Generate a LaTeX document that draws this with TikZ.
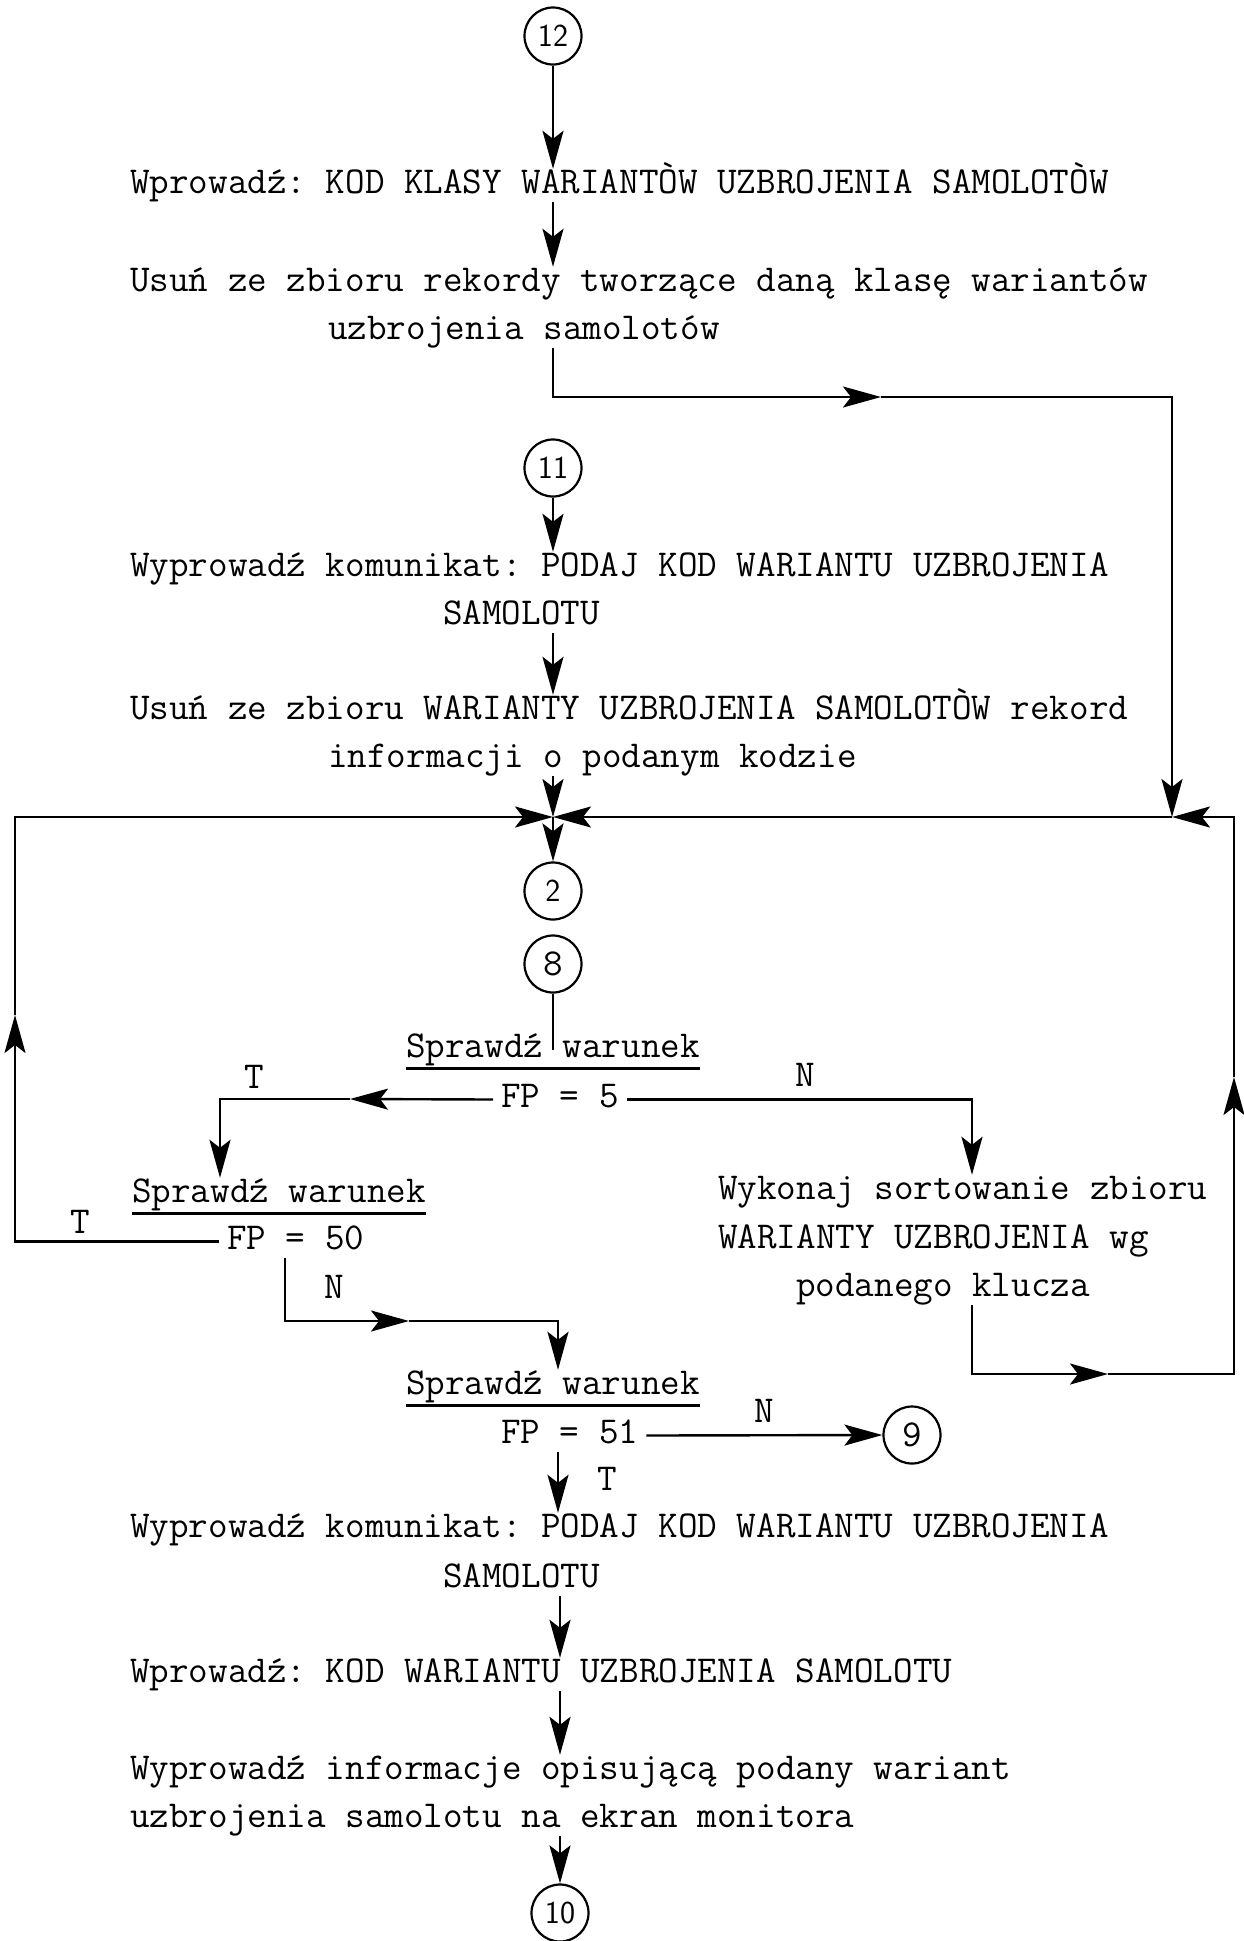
\documentclass[tikz,border=0pt]{standalone}
\usepackage{fontspec}
\usetikzlibrary{arrows.meta,calc}
\begin{document}
\begin{tikzpicture}[x=1pt,y=-1pt,
  every node/.style={inner sep=0pt},
  txt/.style={anchor=base west, font=\ttfamily\fontsize{38}{44}\selectfont\frenchspacing, text height=24pt, text depth=9pt},
  lbl/.style={font=\ttfamily\fontsize{38}{44}\selectfont},
  circ/.style={draw, circle, line width=2.2pt, minimum size=57pt, font=\sffamily\fontsize{32}{32}\selectfont},
  tcirc/.style={circ, font=\ttfamily\fontsize{38}{38}\selectfont},
  ln/.style={line width=2.4pt},
  arr/.style={ln, -{Stealth[length=38pt,width=21pt,inset=8pt]}},
  ul/.style={line width=3pt}]
\useasboundingbox (0,0) rectangle (1243,1941);
% nodes
\node[circ] (c12) at (553,36) {12};
\node[txt] (t1) at (130,193) {Wprowadź: KOD KLASY WARIANTÒW UZBROJENIA SAMOLOTÒW};
\node[txt] (t2a) at (130,291) {Usuń ze zbioru rekordy tworzące daną klasę wariantów};
\node[txt] (t2b) at (328,339) {uzbrojenia samolotów};
\node[circ] (c11) at (553,468) {11};
\node[txt] (t3a) at (130,576) {Wyprowadź komunikat: PODAJ KOD WARIANTU UZBROJENIA};
\node[txt] (t3b) at (443,624) {SAMOLOTU};
\node[txt] (t4a) at (130,719) {Usuń ze zbioru WARIANTY UZBROJENIA SAMOLOTÒW rekord};
\node[txt] (t4b) at (328,767) {informacji o podanym kodzie};
\coordinate (j1) at (553,817);
\coordinate (j2) at (1172,817);
\node[circ] (c2) at (553,891) {2};
\node[tcirc] (c8) at (553,964) {8};
\node[txt] (s1) at (406,1057) {Sprawdź warunek};
\node[txt] (fp5) at (501,1107) {FP = 5};
\node[txt] (s2) at (132,1202) {Sprawdź warunek};
\node[txt] (fp50) at (227,1249) {FP = 50};
\node[txt] (r1) at (718,1199) {Wykonaj sortowanie zbioru};
\node[txt] (r2) at (718,1248) {WARIANTY UZBROJENIA wg};
\node[txt] (r3) at (796,1296) {podanego klucza};
\node[txt] (s3) at (406,1394) {Sprawdź warunek};
\node[txt] (fp51) at (501,1443) {FP = 51};
\node[tcirc] (c9) at (912,1435) {9};
\node[txt] (t5a) at (130,1537) {Wyprowadź komunikat: PODAJ KOD WARIANTU UZBROJENIA};
\node[txt] (t5b) at (443,1587) {SAMOLOTU};
\node[txt] (t6) at (130,1682) {Wprowadź: KOD WARIANTU UZBROJENIA SAMOLOTU};
\node[txt] (t7a) at (130,1779) {Wyprowadź informacje opisującą podany wariant};
\node[txt] (t7b) at (130,1827) {uzbrojenia samolotu na ekran monitora};
\node[circ] (c10) at (560,1913) {10};
% labels
\node[lbl] (lT1) at (254,1077) {T};
\node[lbl] (lN1) at (805,1075) {N};
\node[lbl] (lT2) at (80,1222) {T};
\node[lbl] (lN2) at (334,1287) {N};
\node[lbl] (lN3) at (764,1411) {N};
\node[lbl] (lT3) at (607,1479) {T};
% helper coordinates
\coordinate (m1) at (881,397);
\coordinate (m2) at (15,1015);
\coordinate (m3) at (1108,1374);
\coordinate (m4) at (1234,1077);
\coordinate (m5) at (350,1099);
\coordinate (m6) at (409,1321);
\coordinate (bx) at (972,1099);
\coordinate (tx) at (220,1099);
\coordinate (nx) at (285,1260);
\coordinate (ax2) at (558,1321);
% underlines
\draw[ul] ($(s1.base west)+(0,11)$) -- ($(s1.base east)+(0,11)$);
\draw[ul] ($(s2.base west)+(0,11)$) -- ($(s2.base east)+(0,11)$);
\draw[ul] ($(s3.base west)+(0,11)$) -- ($(s3.base east)+(0,11)$);
% connectors
\draw[arr] (c12.south) -- (t1.north -| c12);
\draw[arr] (t1.south -| c12) -- (t2a.north -| c12);
\draw[arr] (t2b.south -| c12) |- (m1);
\draw[arr] (m1) -| (j2);
\draw[arr] (c11.south) -- (t3a.north -| c11);
\draw[arr] (t3b.south -| c11) -- (t4a.north -| c11);
\draw[arr] (t4b.south -| c11) -- (j1);
\draw[arr] (j1) -- (c2.north);
\draw[ln] (c8.south) -- (s1.center -| c8);
\draw[arr] ($(fp5.west)+(-8,0)$) -- (m5);
\draw[arr] (m5) -| (s2.north -| tx);
\draw[arr] ($(fp5.east)+(8,0)$) -| (r1.north -| bx);
\draw[arr] ($(fp50.west)+(-8,0)$) -| (m2);
\draw[arr] (m2) |- (j1);
\draw[arr] (fp50.south -| nx) |- (m6);
\draw[arr] (m6) -| (s3.north -| ax2);
\draw[arr] (r3.south -| bx) |- (m3);
\draw[arr] (m3) -| (m4);
\draw[arr] (m4) |- (j2);
\draw[arr] (j2) -- (j1);
\draw[arr] ($(fp51.east)+(8,0)$) -- (c9.west);
\draw[arr] (fp51.south -| ax2) -- (t5a.north -| ax2);
\draw[arr] (t5b.south -| c10) -- (t6.north -| c10);
\draw[arr] (t6.south -| c10) -- (t7a.north -| c10);
\draw[arr] (t7b.south -| c10) -- (c10.north);
\end{tikzpicture}
\end{document}
